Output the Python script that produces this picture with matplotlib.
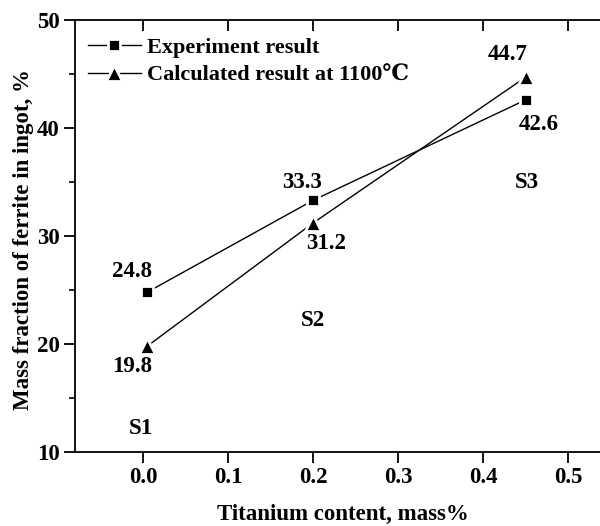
import matplotlib
matplotlib.use("Agg")
import matplotlib.pyplot as plt
from matplotlib.ticker import MultipleLocator

plt.rcParams['font.family'] = ['Liberation Serif', 'DejaVu Serif', 'Noto Sans CJK SC']
plt.rcParams['font.weight'] = 'bold'

ti_content = [0.005, 0.2, 0.45]
experiment = [24.8, 33.3, 42.6]
calculated = [19.8, 31.2, 44.7]
exp_labels = ["24.8", "33.3", "42.6"]
calc_labels = ["19.8", "31.2", "44.7"]
sample_names = ["S1", "S2", "S3"]
x_ticks = [0.0, 0.1, 0.2, 0.3, 0.4, 0.5]
y_ticks = [10, 20, 30, 40, 50]

# label positions (data coords)
exp_label_pos = [(-0.013, 26.7), (0.187, 35.0), (0.465, 40.3)]
calc_label_pos = [(-0.013, 17.9), (0.216, 29.35), (0.429, 46.8)]
sample_pos = [(-0.002, 12.2), (0.2, 22.2), (0.452, 35.0)]

fig = plt.figure(figsize=(6.0, 5.26), dpi=100)
ax = fig.add_axes([75/600, 74/526, 1 - 75/600, (452-20)/526])

fs = 16.5
ax.plot(ti_content, experiment, color='black', lw=1.0, marker='s', ms=9.2,
        mfc='black', mec='white', mew=2.0, label='Experiment result', zorder=3)
ax.plot(ti_content, calculated, color='black', lw=1.0, marker='^', ms=11,
        mfc='black', mec='white', mew=2.0, label='Calculated result at 1100\u2103', zorder=3)

for (x, y), t in zip(exp_label_pos, exp_labels):
    ax.text(x, y, t, ha='center', va='center', fontsize=fs, fontweight='bold')
for (x, y), t in zip(calc_label_pos, calc_labels):
    ax.text(x, y, t, ha='center', va='center', fontsize=fs, fontweight='bold')
for (x, y), t in zip(sample_pos, sample_names):
    ax.text(x, y, t, ha='center', va='center', fontsize=fs, fontweight='bold')

ax.set_xlim(-0.08, 0.5376)
ax.set_ylim(10, 50)
ax.set_xticks(x_ticks)
ax.set_xticklabels([f"{v:.1f}" for v in x_ticks])
ax.set_yticks(y_ticks)
ax.yaxis.set_minor_locator(MultipleLocator(5))
ax.spines['right'].set_visible(False)
for s in ['left', 'bottom', 'top']:
    ax.spines[s].set_linewidth(1.3)

ax.tick_params(axis='both', which='major', direction='out', length=8, width=1.3,
               labelsize=fs, pad=3)
ax.tick_params(axis='y', which='minor', direction='out', length=4, width=1.2)
ax.tick_params(axis='x', which='major', top=True, labeltop=False)
# top ticks point inward
for t in ax.xaxis.get_major_ticks():
    t.tick2line.set_marker(3)
for lbl in ax.get_xticklabels() + ax.get_yticklabels():
    lbl.set_fontweight('bold')

ax.set_xlabel('Titanium content, mass%', fontsize=fs, fontweight='bold', labelpad=8)
ax.xaxis.set_label_coords(0.51, -0.12)
ax.set_ylabel('Mass fraction of ferrite in ingot, %', fontsize=fs, fontweight='bold')
ax.yaxis.set_label_coords(-0.099, 0.491)
ax.yaxis.label.set_va('center')

leg = ax.legend(loc='upper left', bbox_to_anchor=(0.0, 0.99), frameon=False,
                prop={'family': ['Liberation Serif', 'DejaVu Serif'], 'weight': 'bold', 'size': 16},
                handlelength=2.35, handletextpad=0.3,
                labelspacing=0.3, borderaxespad=0.2)

fig.savefig('out.png', dpi=100)
